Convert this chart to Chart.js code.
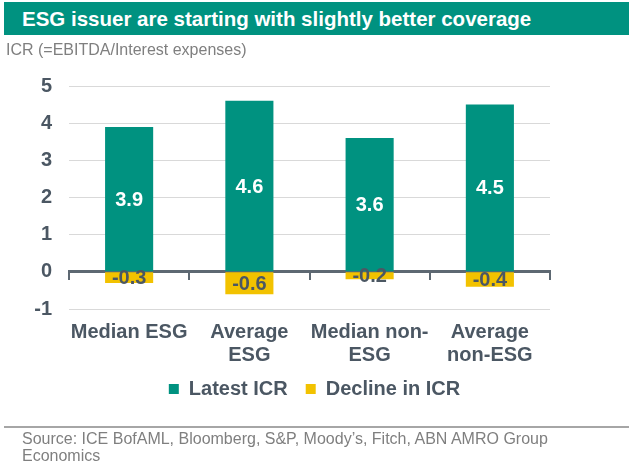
<!DOCTYPE html>
<html>
<head>
<meta charset="utf-8">
<script src="https://cdn.jsdelivr.net/npm/chart.js@4.4.1/dist/chart.umd.min.js"></script>
<style>
  body { margin: 0; background: #fff; font-family: "Liberation Sans", Arial, sans-serif; }
  #wrap { position: relative; width: 629px; height: 464px; overflow: hidden; }
  #chart { position: absolute; left: 0; top: 0; }
  .title {
    position: absolute; left: 4px; top: 2px; width: 607px; height: 33px;
    background: #009280; color: #fff; font-weight: bold; font-size: 20.5px;
    line-height: 33px; padding-left: 18px; white-space: nowrap;
  }
  .subtitle {
    position: absolute; left: 6px; top: 41px; font-size: 16px; line-height: 18px;
    color: #7f7f7f; white-space: nowrap;
  }
  .rule { position: absolute; left: 4px; top: 426px; width: 625px; height: 2px; background: #a6a6a6; }
  .source {
    position: absolute; left: 22px; top: 430px; font-size: 16px; line-height: 17px;
    color: #7f7f7f; white-space: nowrap;
  }
</style>
</head>
<body>
<div id="wrap">
  <canvas id="chart" width="629" height="464"></canvas>
  <div class="title">ESG issuer are starting with slightly better coverage</div>
  <div class="subtitle">ICR (=EBITDA/Interest expenses)</div>
  <div class="rule"></div>
  <div class="source">Source: ICE BofAML, Bloomberg, S&amp;P, Moody’s, Fitch, ABN AMRO Group<br>Economics</div>
</div>
<script>
// data dari gambar
const categories = [["Median ESG"], ["Average", "ESG"], ["Median non-", "ESG"], ["Average", "non-ESG"]];
const latestIcr = [3.9, 4.6, 3.6, 4.5];
const declineIcr = [-0.3, -0.6, -0.2, -0.4];
const yMin = -1;
const yMax = 5;

const TEAL = "#009280";
const YELLOW = "#f2c200";
const DARK = "#4b5763";
const AXIS = "#5d6872";

// label angka di tengah batang
const barLabels = {
  id: "barLabels",
  afterDatasetsDraw(chart) {
    const ctx = chart.ctx;
    ctx.save();
    ctx.font = "bold 20px 'Liberation Sans', Arial, sans-serif";
    ctx.textAlign = "center";
    ctx.textBaseline = "middle";
    chart.data.datasets.forEach((ds, i) => {
      const meta = chart.getDatasetMeta(i);
      meta.data.forEach((bar, j) => {
        const p = bar.getProps(["x", "y", "base"], true);
        ctx.fillStyle = ds.labelColor;
        ctx.fillText(ds.data[j].toFixed(1), p.x, (p.y + p.base) / 2 + 1);
      });
    });
    ctx.restore();
  },
};

new Chart(document.getElementById("chart"), {
  type: "bar",
  data: {
    labels: categories,
    datasets: [
      { label: "Latest ICR", data: latestIcr, backgroundColor: TEAL, labelColor: "#ffffff" },
      { label: "Decline in ICR", data: declineIcr, backgroundColor: YELLOW, labelColor: DARK },
    ],
  },
  options: {
    responsive: false,
    animation: false,
    layout: { padding: { top: 86, left: 0, right: 0, bottom: 55 } },
    datasets: { bar: { barPercentage: 0.4, categoryPercentage: 1 } },
    plugins: {
      tooltip: { enabled: false },
      legend: {
        position: "bottom",
        labels: {
          boxWidth: 10,
          boxHeight: 10,
          padding: 18,
          color: DARK,
          font: { family: "'Liberation Sans', Arial, sans-serif", size: 20, weight: "bold" },
        },
      },
    },
    scales: {
      x: {
        type: "category",
        position: { y: 0 },
        stacked: true,
        offset: true,
        grid: { display: true, offset: true, drawOnChartArea: false, drawTicks: true, tickLength: 7, color: AXIS, lineWidth: 2 },
        border: { display: true, color: AXIS, width: 3 },
        ticks: { display: false },
      },
      x2: {
        type: "category",
        position: "bottom",
        offset: true,
        grid: { display: false, drawTicks: false },
        border: { display: false },
        ticks: {
          padding: 12,
          maxRotation: 0,
          autoSkip: false,
          color: DARK,
          font: { family: "'Liberation Sans', Arial, sans-serif", size: 20, weight: "bold", lineHeight: 1.15 },
        },
        afterFit(scale) { scale.height = 52; },
      },
      y: {
        stacked: true,
        min: yMin,
        max: yMax,
        grid: { color: "#d9d9d9", lineWidth: 1, drawTicks: false },
        border: { display: false },
        ticks: {
          stepSize: 1,
          padding: 17,
          color: DARK,
          font: { family: "'Liberation Sans', Arial, sans-serif", size: 20, weight: "bold" },
        },
        afterFit(scale) { scale.width = 69; },
      },
      yr: {
        type: "linear",
        position: "right",
        grid: { display: false, drawTicks: false },
        border: { display: false },
        ticks: { display: false },
        afterFit(scale) { scale.width = 79; },
      },
    },
  },
  plugins: [barLabels],
});
</script>
</body>
</html>
